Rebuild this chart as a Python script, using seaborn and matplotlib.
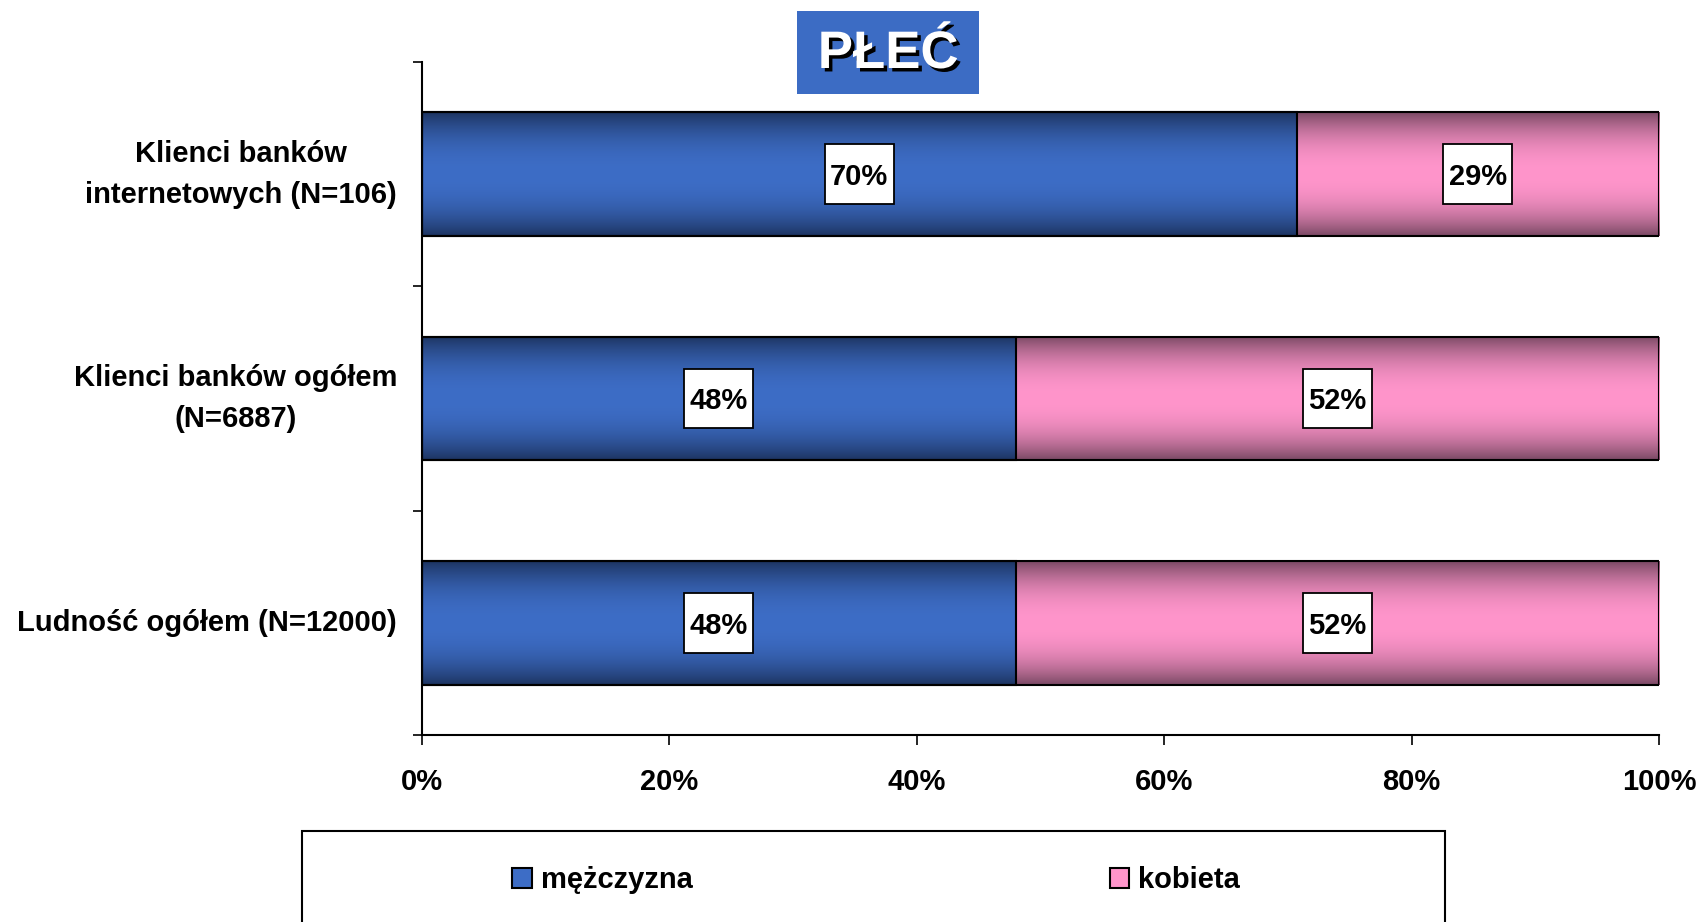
import numpy as np
import pandas as pd
import matplotlib
matplotlib.use("Agg")
import matplotlib.pyplot as plt
import seaborn as sns
from matplotlib.patches import Rectangle, Patch
from matplotlib.colors import to_rgb
import matplotlib.patheffects as pe

# ---- data ----
groups = [
    "Klienci banków\ninternetowych (N=106)",
    "Klienci banków ogółem\n(N=6887)",
    "Ludność ogółem (N=12000)",
]
men = [70, 48, 48]
women = [29, 52, 52]
series_names = ["mężczyzna", "kobieta"]
x_ticks = [0, 20, 40, 60, 80, 100]
title = "PŁEĆ"

# ---- style ----
sns.set_theme(style="white")
plt.rcParams["font.family"] = ["Liberation Sans", "DejaVu Sans"]
plt.rcParams["font.weight"] = "bold"
plt.rcParams["text.color"] = "black"
plt.rcParams["xtick.color"] = "black"
plt.rcParams["ytick.color"] = "black"
plt.rcParams["xtick.labelcolor"] = "black"
plt.rcParams["ytick.labelcolor"] = "black"

BLUE_MID, BLUE_EDGE = "#3d6dc6", "#1d3461"
PINK_MID, PINK_EDGE = "#ff95cb", "#7a4964"
FS = 21

# 100% stacked: shares of each group total
men_arr = np.array(men, dtype=float)
women_arr = np.array(women, dtype=float)
totals = men_arr + women_arr
men_share = men_arr / totals * 100
df = pd.DataFrame({"group": groups, "men": men_share, "total": 100.0})

fig = plt.figure(figsize=(17.02, 9.22), dpi=100)
ax = fig.add_axes([0.2479, 0.2028, 0.7268, 0.7300])

sns.barplot(data=df, x="total", y="group", color=PINK_MID, width=0.55, ax=ax,
            saturation=1, edgecolor="black", linewidth=1.5)
n_pink = len(ax.patches)
sns.barplot(data=df, x="men", y="group", color=BLUE_MID, width=0.55, ax=ax,
            saturation=1, edgecolor="black", linewidth=1.5)


def gradient(mid, edge, n=256):
    t = np.linspace(0, 1, n)
    w = 1 - np.abs(2 * t - 1) ** 2.2
    m = np.array(to_rgb(mid))
    e = np.array(to_rgb(edge))
    col = e + (m - e) * w[:, None]
    return col[:, None, :]


# shaded cylinder-like fill for every bar segment
for i, p in enumerate(ax.patches):
    x0, y0 = p.get_x(), p.get_y()
    w, h = p.get_width(), p.get_height()
    pink = i < n_pink
    img = gradient(PINK_MID, PINK_EDGE) if pink else gradient(BLUE_MID, BLUE_EDGE)
    im = ax.imshow(img, extent=(x0, x0 + w, y0 + h, y0), aspect="auto",
                   interpolation="bilinear", zorder=1.5 if pink else 1.8)
    im.set_clip_path(p)
    p.set_facecolor("none")
    p.set_zorder(3)

# value labels in white boxes (box size in data units)
BOX_W, BOX_H = 5.6, 0.265


def value_label(xc, yc, txt):
    ax.add_patch(Rectangle((xc - BOX_W / 2, yc - BOX_H / 2), BOX_W, BOX_H,
                           fc="white", ec="black", lw=1.3, zorder=4))
    ax.text(xc, yc, txt, ha="center", va="center_baseline", fontsize=FS,
            fontweight="bold", color="black", zorder=5)


for i in range(len(groups)):
    value_label(men_share[i] / 2, i, f"{men[i]}%")
    value_label(men_share[i] + (100 - men_share[i]) / 2, i, f"{women[i]}%")

# axes
ax.set_xlim(0, 100)
ax.set_ylim(len(groups) - 0.5, -0.5)
ax.set_xticks(x_ticks, labels=[f"{v}%" for v in x_ticks])
ax.set_yticks(np.arange(len(groups) + 1) - 0.5, minor=True)
ax.set_xlabel("")
ax.set_ylabel("")
sns.despine(ax=ax, top=True, right=True)
for s in ("left", "bottom"):
    ax.spines[s].set_color("black")
    ax.spines[s].set_linewidth(1.5)
ax.tick_params(axis="y", which="major", length=0, pad=18, labelsize=FS)
ax.tick_params(axis="y", which="minor", left=True, length=6.5, width=1.2,
               color="black", direction="out")
ax.tick_params(axis="x", which="major", bottom=True, length=7, width=1.2,
               color="black", direction="out", pad=17, labelsize=FS)
for lbl in ax.get_yticklabels():
    lbl.set_multialignment("center")
    lbl.set_linespacing(1.6)
    lbl.set_fontweight("bold")
    lbl.set_verticalalignment("center")
for lbl in ax.get_xticklabels():
    lbl.set_fontweight("bold")

# title in a blue box
fig.add_artist(Rectangle((797 / 1702, 1 - 94 / 922), 182 / 1702, 83 / 922,
                         transform=fig.transFigure, fc="#3c6cc4", ec="none"))
fig.text(888 / 1702, 1 - 54 / 922, title, ha="center", va="center",
         fontsize=38, fontweight="bold", color="white",
         path_effects=[pe.SimplePatchShadow(offset=(2.5, -2.5),
                                            shadow_rgbFace="black", alpha=1),
                       pe.Normal()])

# legend frame running past the bottom edge
fig.add_artist(Rectangle((302 / 1702, -0.05), 1143 / 1702, 0.05 + 1 - 831 / 922,
                         transform=fig.transFigure, fc="white", ec="black",
                         lw=1.5, clip_on=False))
handles = [Patch(fc=BLUE_MID, ec="black", lw=1.5),
           Patch(fc=PINK_MID, ec="black", lw=1.5)]
fig.legend(handles=handles, labels=series_names, loc="center",
           bbox_to_anchor=(876 / 1702, 1 - 880 / 922), ncol=2, frameon=False,
           prop={"size": FS, "weight": "bold"}, handlelength=0.68,
           handleheight=0.68, handletextpad=0.3, columnspacing=14.3,
           borderpad=0, borderaxespad=0)

fig.savefig("out.png", dpi=100)
